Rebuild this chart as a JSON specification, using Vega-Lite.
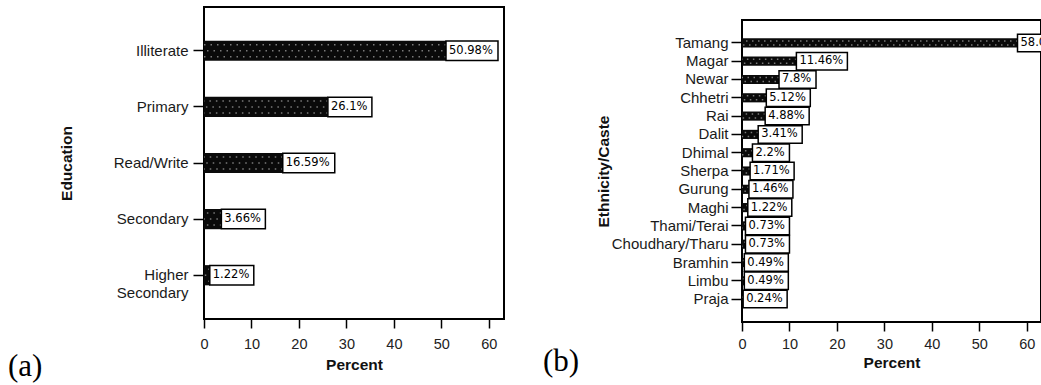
{
  "$schema": "https://vega.github.io/schema/vega-lite/v6.json",
  "background": "white",
  "padding": {"left": 7, "top": 6, "right": 0, "bottom": 0},
  "config": {
    "view": {"stroke": "black", "strokeWidth": 2},
    "font": "Liberation Sans",
    "axis": {
      "domain": false,
      "grid": false,
      "tickColor": "black",
      "tickWidth": 1.5,
      "labelFont": "Liberation Sans",
      "labelColor": "#1a1a1a",
      "labelOverlap": false,
      "labelFlush": false,
      "titleFont": "Liberation Sans",
      "titleFontWeight": "bold",
      "titleColor": "#111111",
      "titleFontSize": 15.5
    },
    "title": {
      "font": "Liberation Serif",
      "fontSize": 31,
      "fontWeight": "normal",
      "color": "black",
      "orient": "bottom",
      "anchor": "start",
      "frame": "group",
      "baseline": "alphabetic"
    }
  },
  "columns": 2,
  "align": "none",
  "spacing": 37,
  "concat": [
    {
      "width": 300,
      "height": 312,
      "title": {"text": "(a)", "dx": -196, "offset": -21},
      "data": {
        "values": [
          {"level": "Illiterate", "pct": 50.98},
          {"level": "Primary", "pct": 26.1},
          {"level": "Read/Write", "pct": 16.59},
          {"level": "Secondary", "pct": 3.66},
          {"level": "Higher Secondary", "pct": 1.22}
        ]
      },
      "transform": [{"calculate": "format(datum.pct, '.2~f') + '%'", "as": "label"}],
      "encoding": {
        "y": {
          "field": "level",
          "type": "nominal",
          "sort": null,
          "scale": {"paddingInner": 0.64, "paddingOuter": 0.6},
          "axis": {
            "title": "Education",
            "tickSize": 11,
            "labelPadding": 5,
            "labelFontSize": 15,
            "labelLineHeight": 18,
            "labelExpr": "datum.value == 'Higher Secondary' ? ['Higher', 'Secondary'] : datum.label",
            "titlePadding": 39
          }
        },
        "x": {
          "field": "pct",
          "type": "quantitative",
          "scale": {"domain": [0, 63.2], "nice": false},
          "axis": {
            "title": "Percent",
            "values": [0, 10, 20, 30, 40, 50, 60],
            "tickSize": 9,
            "labelPadding": 9,
            "labelFontSize": 14.5,
            "labelColor": "#222222",
            "titlePadding": 7
          }
        }
      },
      "layer": [
        {"mark": {"type": "bar", "color": "#0a0a0a"}},
        {
          "mark": {"type": "rule", "stroke": "#7a7a7a", "strokeWidth": 1.5, "strokeDash": [1.5, 5], "yOffset": -6},
          "encoding": {"x2": {"datum": 0}}
        },
        {
          "mark": {"type": "rule", "stroke": "#7a7a7a", "strokeWidth": 1.5, "strokeDash": [1.5, 5], "strokeDashOffset": 3, "yOffset": 0},
          "encoding": {"x2": {"datum": 0}}
        },
        {
          "mark": {"type": "rule", "stroke": "#7a7a7a", "strokeWidth": 1.5, "strokeDash": [1.5, 5], "yOffset": 6},
          "encoding": {"x2": {"datum": 0}}
        },
        {
          "mark": {"type": "point", "filled": true, "fill": "white", "stroke": "black", "strokeWidth": 1.5, "opacity": 1, "size": 400},
          "encoding": {
            "shape": {
              "condition": {"test": "length(datum.label) < 6", "value": "M0,-0.975H4.4V0.975H0Z"},
              "value": "M0,-0.975H5.2V0.975H0Z"
            }
          }
        },
        {
          "mark": {"type": "text", "align": "left", "baseline": "middle", "dx": 3, "font": "DejaVu Sans", "fontSize": 11.5, "color": "black"},
          "encoding": {"text": {"field": "label"}}
        }
      ]
    },
    {
      "spacing": 10,
      "vconcat": [
        {
          "width": 299,
          "height": 2,
          "view": {"stroke": null},
          "data": {"values": []},
          "mark": "point"
        },
        {
          "width": 299,
          "height": 302,
          "title": {"text": "(b)", "dx": -199, "offset": -24},
          "data": {
            "values": [
              {"group": "Tamang", "pct": 58.05},
              {"group": "Magar", "pct": 11.46},
              {"group": "Newar", "pct": 7.8},
              {"group": "Chhetri", "pct": 5.12},
              {"group": "Rai", "pct": 4.88},
              {"group": "Dalit", "pct": 3.41},
              {"group": "Dhimal", "pct": 2.2},
              {"group": "Sherpa", "pct": 1.71},
              {"group": "Gurung", "pct": 1.46},
              {"group": "Maghi", "pct": 1.22},
              {"group": "Thami/Terai", "pct": 0.73},
              {"group": "Choudhary/Tharu", "pct": 0.73},
              {"group": "Bramhin", "pct": 0.49},
              {"group": "Limbu", "pct": 0.49},
              {"group": "Praja", "pct": 0.24}
            ]
          },
          "transform": [{"calculate": "format(datum.pct, '.2~f') + '%'", "as": "label"}],
          "encoding": {
            "y": {
              "field": "group",
              "type": "nominal",
              "sort": null,
              "scale": {"paddingInner": 0.5, "paddingOuter": 1.12},
              "axis": {
                "title": "Ethnicity/Caste",
                "tickSize": 11,
                "labelPadding": 3,
                "labelFontSize": 15,
                "titlePadding": 0
              }
            },
            "x": {
              "field": "pct",
              "type": "quantitative",
              "scale": {"domain": [0, 63], "nice": false},
              "axis": {
                "title": "Percent",
                "values": [0, 10, 20, 30, 40, 50, 60],
                "tickSize": 9,
                "labelPadding": 6,
                "labelFontSize": 14.5,
                "labelColor": "#222222",
                "titlePadding": 5
              }
            }
          },
          "layer": [
            {"mark": {"type": "bar", "color": "#0a0a0a"}},
            {
              "mark": {"type": "rule", "stroke": "#7a7a7a", "strokeWidth": 1.5, "strokeDash": [1.5, 4.5], "yOffset": -2},
              "encoding": {"x2": {"datum": 0}}
            },
            {
              "mark": {"type": "rule", "stroke": "#7a7a7a", "strokeWidth": 1.5, "strokeDash": [1.5, 4.5], "strokeDashOffset": 3, "yOffset": 2},
              "encoding": {"x2": {"datum": 0}}
            },
            {
              "mark": {"type": "point", "filled": true, "fill": "white", "stroke": "black", "strokeWidth": 1.5, "opacity": 1, "size": 400, "clip": true},
              "encoding": {
                "shape": {
                  "condition": [
                    {"test": "length(datum.label) < 5", "value": "M0,-0.875H3.7V0.875H0Z"},
                    {"test": "length(datum.label) < 6", "value": "M0,-0.875H4.4V0.875H0Z"}
                  ],
                  "value": "M0,-0.875H5.1V0.875H0Z"
                }
              }
            },
            {
              "mark": {"type": "text", "align": "left", "baseline": "middle", "dx": 3, "font": "DejaVu Sans", "fontSize": 11.5, "color": "black", "clip": true},
              "encoding": {"text": {"field": "label"}}
            }
          ]
        }
      ]
    }
  ]
}
